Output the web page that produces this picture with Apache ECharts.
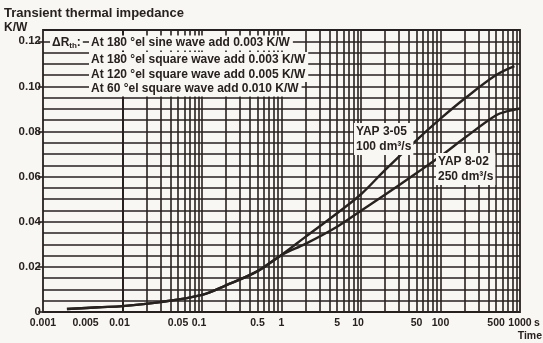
<!DOCTYPE html>
<html><head><meta charset="utf-8">
<script src="https://cdn.jsdelivr.net/npm/echarts@6/dist/echarts.min.js"></script>
<style>html,body{margin:0;padding:0;background:#f8f7f3}#c{width:543px;height:343px}</style>
</head><body><div id="c"></div>
<script>
// ---- data ----
const timeYAP305 = [0.002, 0.005, 0.01, 0.03, 0.1, 0.2, 0.5, 1, 2, 5, 10, 20, 50, 100, 200, 500, 850];
const zthYAP305  = [0.0013, 0.0021, 0.0026, 0.0044, 0.0076, 0.0118, 0.0181, 0.0253, 0.0333, 0.0438, 0.0522, 0.0629, 0.0762, 0.0857, 0.0945, 0.1050, 0.1090];
const timeYAP802 = [0.002, 0.005, 0.01, 0.03, 0.1, 0.2, 0.5, 1, 2, 5, 10, 20, 50, 100, 200, 500, 700, 1000];
const zthYAP802  = [0.0013, 0.0021, 0.0026, 0.0044, 0.0076, 0.0118, 0.0181, 0.0253, 0.0302, 0.0378, 0.0449, 0.0520, 0.0616, 0.0690, 0.0771, 0.0872, 0.0890, 0.0902];
const xTickValues = [0.001, 0.005, 0.01, 0.05, 0.1, 0.5, 1, 5, 10, 50, 100, 500, 1000];
const xTickLabels = ['0.001', '0.005', '0.01', '0.05', '0.1', '0.5', '1', '5', '10', '50', '100', '500', '1000'];
const yTickValues = [0, 0.02, 0.04, 0.06, 0.08, 0.10, 0.12];
const yTickLabels = ['0', '0.02', '0.04', '0.06', '0.08', '0.10', '0.12'];
const noteLines = [
  'At 180 °el sine wave add 0.003 K/W',
  'At 180 °el square wave add 0.003 K/W',
  'At 120 °el square wave add 0.005 K/W',
  'At 60 °el square wave add 0.010 K/W'
];
const curveNames = ['YAP 3-05', 'YAP 8-02'];
const curveFlows = ['100 dm³/s', '250 dm³/s'];

// log-paper vertical grid values (2..9 per decade, plus inner decades)
const decades = [0.001, 0.01, 0.1, 1, 10, 100];
const gridX = [];
decades.forEach(d => { for (let k = 2; k <= 9; k++) gridX.push(+(d * k).toPrecision(3)); });
gridX.push(0.01, 0.1, 1, 10, 100);

const ink = '#272120';
const paper = '#f8f7f3';
const FF = 'Liberation Sans, Arial, sans-serif';
function nearestIndex(v, vals) {
  let best = 0, bd = Infinity;
  vals.forEach((x, i) => { const d = Math.abs(Math.log(Math.max(v,1e-9)) - Math.log(Math.max(x,1e-9))); if (d < bd) { bd = d; best = i; } });
  return best;
}
const xLabelFont = {fontSize: 10.5, fontWeight: 'bold', fontFamily: FF, color: ink};

const chart = echarts.init(document.getElementById('c'), null, {renderer: 'canvas'});
const noteGraphics = noteLines.map((t, i) => ({
  type: 'text', x: 89, y: [43, 59.5, 74.5, 89][i], z: 100,
  style: {text: t, font: 'bold 12px ' + FF, fill: ink, verticalAlign: 'middle',
          backgroundColor: paper, padding: [2, 3, 1, 2]}
}));
chart.setOption({
  backgroundColor: paper,
  animation: false,
  grid: {left: 43, right: 23, top: 30, bottom: 31, show: true, borderColor: ink, borderWidth: 1.8, backgroundColor: 'transparent'},
  xAxis: [{
    type: 'log', logBase: 10, min: 0.001, max: 1000,
    axisLine: {show: false, onZero: false}, axisTick: {show: false}, splitLine: {show: false},
    axisLabel: Object.assign({customValues: xTickValues, margin: 6,
      formatter: v => {
        const i = nearestIndex(v, xTickValues);
        const lab = xTickLabels[i];
        if (lab === '0.005') return '{s2|' + lab + '}';
        if (lab === '0.01' || lab === '0.1' || lab === '10') return '{s1|' + lab + '}';
        return lab;
      },
      rich: {
        s2: Object.assign({padding: [0, 26, 0, 0]}, xLabelFont),
        s1: Object.assign({padding: [0, 6, 0, 0]}, xLabelFont)
      }}, xLabelFont)
  }],
  yAxis: [{
    type: 'value', min: 0, max: 0.125, interval: 0.005,
    axisLine: {show: false, onZero: false}, axisTick: {show: false}, axisLabel: {show: false},
    splitLine: {show: true, lineStyle: {color: ink, width: 1.6}}
  }, {
    type: 'value', min: 0, max: 0.125, position: 'left',
    axisLine: {show: false, onZero: false}, splitLine: {show: false},
    axisTick: {show: true, customValues: yTickValues, length: 5, lineStyle: {color: ink, width: 1.6}},
    axisLabel: {customValues: yTickValues, color: ink, fontSize: 11.5, fontWeight: 'bold', fontFamily: FF, margin: 2,
      formatter: v => { const i = yTickValues.findIndex(x => Math.abs(x - v) < 1e-6); return i < 0 ? '' : yTickLabels[i]; }}
  }],
  series: [{
    type: 'line', data: [], z: 1, silent: true,
    markLine: {silent: true, symbol: 'none', animation: false, label: {show: false},
      lineStyle: {color: ink, width: 1.6, type: 'solid'},
      data: gridX.map(v => ({xAxis: v}))}
  }, {
    type: 'line', name: curveNames[0], data: timeYAP305.map((t, i) => [t, zthYAP305[i]]),
    smooth: 0.35, showSymbol: false, z: 5, lineStyle: {color: ink, width: 2.4}
  }, {
    type: 'line', name: curveNames[1], data: timeYAP802.map((t, i) => [t, zthYAP802[i]]),
    smooth: 0.35, showSymbol: false, z: 5, lineStyle: {color: ink, width: 2.4}
  }],
  graphic: [
    {type: 'text', x: 4, y: 7, z: 100, style: {text: 'Transient thermal impedance', font: 'bold 13px ' + FF, fill: ink}},
    {type: 'text', x: 4, y: 22, z: 100, style: {text: 'K/W', font: 'bold 12px ' + FF, fill: ink}},
    {type: 'text', x: 50, y: 43, z: 100, style: {
      text: '{a|ΔR}{s|th}{a|:}', verticalAlign: 'middle', backgroundColor: paper, padding: [1, 2, 1, 2],
      rich: {a: {font: 'bold 12px ' + FF, fill: ink}, s: {font: 'bold 8px ' + FF, fill: ink, padding: [5, 0, 0, 0]}}}},
    ...noteGraphics,
    {type: 'text', x: 354, y: 123, z: 100, style: {text: curveNames[0] + '\n' + curveFlows[0], font: 'bold 12px ' + FF, fill: ink, lineHeight: 15, backgroundColor: paper, padding: [1, 2]}},
    {type: 'text', x: 436, y: 153, z: 100, style: {text: curveNames[1] + '\n' + curveFlows[1], font: 'bold 12px ' + FF, fill: ink, lineHeight: 15, backgroundColor: paper, padding: [1, 2]}},
    {type: 'text', x: 534, y: 318, z: 100, style: {text: 's', font: 'bold 10.5px ' + FF, fill: ink}},
    {type: 'text', x: 542, y: 331, z: 100, style: {text: 'Time', font: 'bold 10.5px ' + FF, fill: ink, align: 'right'}}
  ]
});
</script></body></html>
